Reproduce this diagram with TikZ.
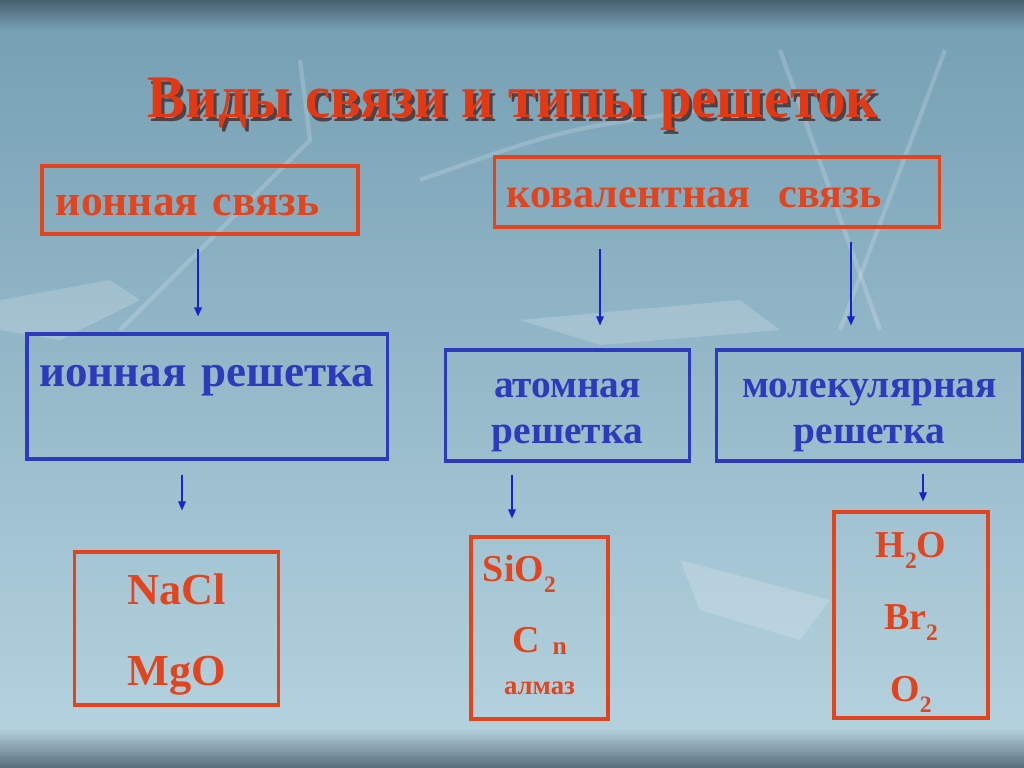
\documentclass[tikz,border=0pt]{standalone}
\usepackage{fontspec}
\usepackage{graphicx}
\setmainfont{Liberation Serif}
\usetikzlibrary{arrows.meta,calc}

\definecolor{bondred}{RGB}{226,68,30}
\definecolor{titlered}{RGB}{226,56,20}
\definecolor{titleshade}{RGB}{78,66,70}
\definecolor{latblue}{RGB}{46,58,188}
\definecolor{arrblue}{RGB}{24,36,200}

% chemical index, set low like in the slide
\newcommand{\lowsub}[1]{\raisebox{-0.28em}{\scalebox{0.62}{#1}}}
\newcommand{\shadowtitle}[1]{%
  \makebox[0pt][l]{\hspace{2.2pt}\raisebox{-2.2pt}{\textcolor{titleshade}{#1}}}#1}

\begin{document}
\begin{tikzpicture}[x=0.025cm, y=-0.025cm,
    redbox/.style={draw=bondred, line width=2.2pt, text=bondred, inner ysep=0pt},
    bluebox/.style={draw=latblue, line width=2.2pt, text=latblue, inner ysep=0pt},
    arr/.style={arrblue, line width=0.9pt, -{Triangle[width=5.5pt,length=6.5pt]}}]
  % background
  \useasboundingbox (0,0) rectangle (1024,768);
  \fill[top color={rgb,255:red,118;green,160;blue,180}, bottom color={rgb,255:red,180;green,210;blue,222}]
    (0,25) rectangle (1024,735);
  \fill[top color={rgb,255:red,72;green,96;blue,110}, bottom color={rgb,255:red,118;green,160;blue,180}]
    (0,0) rectangle (1024,30);
  \fill[top color={rgb,255:red,180;green,210;blue,222}, bottom color={rgb,255:red,88;green,110;blue,122}]
    (0,728) rectangle (1024,768);
  % faint ice streaks
  \begin{scope}[white, opacity=0.18, line width=3pt]
    \draw (780,50) -- (880,330);
    \draw (945,50) -- (840,330);
    \draw (300,60) -- (310,140) -- (120,330);
    \draw (420,180) .. controls (560,130) .. (700,110);
    \fill (0,300) -- (110,280) -- (140,300) -- (60,340) -- (0,330) -- cycle;
    \fill (520,320) -- (740,300) -- (780,330) -- (600,345) -- cycle;
    \fill (680,560) -- (830,600) -- (800,640) -- (700,610) -- cycle;
  \end{scope}

  % title
  \node[anchor=base, text=titlered, inner sep=0pt, font=\fontsize{43}{50}\selectfont\bfseries]
    (title) at (513,118) {\scalebox{0.94}[1]{\shadowtitle{Виды связи и типы решеток}}};

  % bonds
  \node[redbox, text width=7.2cm, inner xsep=0.35cm, align=left, text height=1.225cm, text depth=0.475cm,
    font=\fontsize{31}{36}\selectfont\bfseries] (ionbond) at (200,200) {ионная связь};
  \node[redbox, text width=10.5cm, inner xsep=0.3cm, align=left, text height=1.25cm, text depth=0.5cm,
    font=\fontsize{30}{36}\selectfont\bfseries] (covbond) at (717,192) {ковалентная\ \ связь};

  % lattices
  \node[bluebox, text width=8.4cm, inner xsep=0.3cm, align=center, text height=1.3cm, text depth=1.825cm,
    font=\fontsize{32}{38}\selectfont\bfseries] (ionlat) at (207,396.5) {ионная решетка};
  \node[bluebox, text width=5.5cm, inner xsep=0.29cm, align=center, text height=1.175cm, text depth=1.6cm,
    font=\fontsize{28}{33.4}\selectfont\bfseries] (atomlat) at (567.5,405.5) {атомная\\решетка};
  \node[bluebox, text width=7.05cm, inner xsep=0.29cm, align=center, text height=1.175cm, text depth=1.6cm,
    font=\fontsize{28}{33.4}\selectfont\bfseries] (mollat) at (869.5,405.5) {молекулярная\\решетка};

  % substances
  \node[redbox, text width=4.5cm, inner xsep=0.29cm, align=center, text height=1.3cm, text depth=2.525cm,
    font=\fontsize{31.5}{58.3}\selectfont\bfseries] (salts) at (176.5,628.5) {NaCl\\MgO};
  \node[redbox, text width=2.825cm, inner xsep=0.3cm, align=center, text height=1.125cm, text depth=3.425cm,
    font=\fontsize{27}{35}\selectfont\bfseries] (atomic) at (539.5,628)
    {\makebox[2.825cm][l]{SiO\lowsub{2}}\\[14.8pt]
     C~\raisebox{-1.5pt}{\fontsize{18}{18}\selectfont n}\\[-5pt]
     {\fontsize{19}{19}\selectfont алмаз}};
  \node[redbox, text width=3.3cm, inner xsep=0.275cm, align=center, text height=1.15cm, text depth=4cm,
    font=\fontsize{27}{51.2}\selectfont\bfseries] (molec) at (911,615)
    {H\lowsub{2}O\\Br\lowsub{2}\\O\lowsub{2}};

  % arrows
  \draw[arr] ($(ionbond.south)+(-2,13)$) -- ($(ionbond.south |- ionlat.north)+(-2,-16)$);
  \draw[arr] ($(covbond.south)+(-117,20)$) -- ($(covbond.south |- atomlat.north)+(-117,-23)$);
  \draw[arr] ($(covbond.south)+(134,13)$) -- ($(covbond.south |- mollat.north)+(134,-23)$);
  \draw[arr] ($(ionlat.south)+(-25,14)$) -- ($(ionlat.south |- salts.north)+(-25,-40)$);
  \draw[arr] ($(atomlat.south)+(-55.5,12)$) -- ($(atomlat.south |- atomic.north)+(-55.5,-17)$);
  \draw[arr] ($(mollat.south)+(53.5,11)$) -- ($(mollat.south |- molec.north)+(53.5,-9)$);
\end{tikzpicture}
\end{document}
